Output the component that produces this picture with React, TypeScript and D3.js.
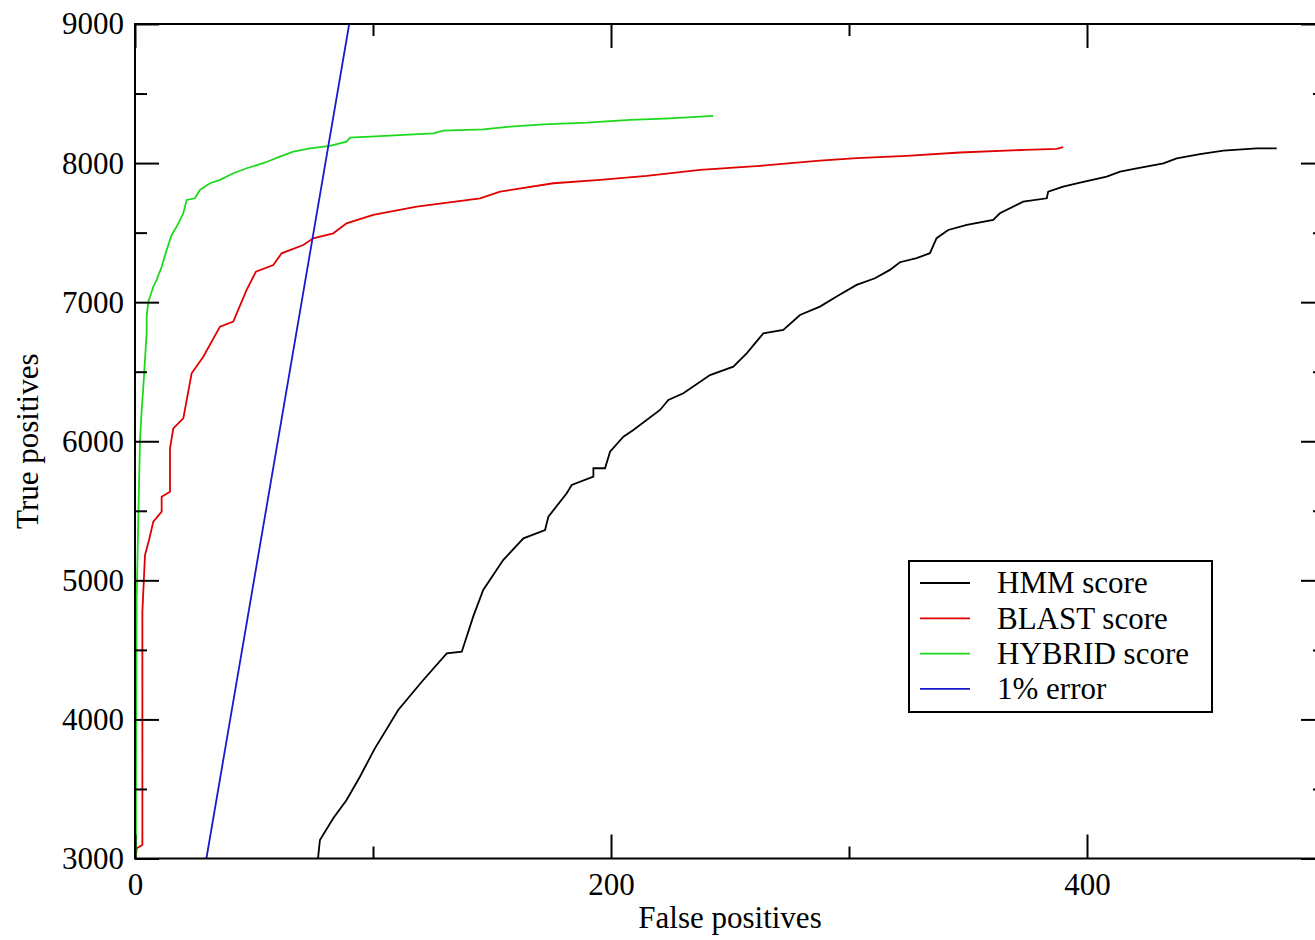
import React, { useEffect, useRef } from 'react';
import * as d3 from 'd3';

// [false positives, true positives]
const hmmScore: [number, number][] = [
  [76.9, 3000], [77.7, 3133], [83.3, 3289], [88.9, 3421], [94.5, 3588], [100.8, 3792],
  [110.6, 4068], [120.5, 4271], [131.0, 4475], [137.3, 4487], [142.1, 4739], [146.3, 4931],
  [154.7, 5146], [163.2, 5302], [172.3, 5362], [173.7, 5458], [181.4, 5626], [183.5, 5686],
  [192.6, 5745], [192.6, 5806], [197.5, 5806], [199.6, 5925], [205.2, 6033], [209.4, 6081],
  [220.6, 6225], [224.1, 6297], [230.4, 6345], [241.6, 6476], [251.4, 6536], [257.0, 6632],
  [264.0, 6776], [272.4, 6800], [279.4, 6908], [287.8, 6968], [294.8, 7040], [303.2, 7124],
  [310.9, 7172], [317.2, 7232], [321.4, 7287], [328.4, 7316], [334.0, 7352], [336.8, 7460],
  [341.7, 7519], [349.5, 7555], [360.6, 7591], [363.4, 7639], [373.2, 7723], [383.1, 7747],
  [383.7, 7795], [390.0, 7831], [397.1, 7859], [408.3, 7902], [413.9, 7938], [420.9, 7962],
  [432.1, 7998], [437.7, 8034], [447.5, 8065], [457.3, 8089], [471.3, 8106], [479.7, 8106]
];

const blastScore: [number, number][] = [
  [0.2, 3000], [0.7, 3073], [3.1, 3097], [3.1, 4775], [4.2, 5182], [5.9, 5290], [7.7, 5422],
  [11.2, 5494], [11.2, 5601], [14.7, 5637], [14.7, 5949], [16.1, 6093], [20.3, 6165],
  [23.8, 6489], [28.7, 6608], [35.7, 6824], [41.3, 6860], [46.9, 7088], [50.8, 7219],
  [58.1, 7267], [61.6, 7351], [70.7, 7411], [74.9, 7459], [83.3, 7495], [88.9, 7567],
  [100.1, 7627], [118.4, 7687], [145.0, 7747], [153.4, 7795], [175.8, 7855], [195.4, 7879],
  [215.0, 7908], [237.4, 7951], [262.6, 7980], [287.8, 8018], [303.2, 8035], [324.2, 8052],
  [346.6, 8076], [373.9, 8095], [387.3, 8102], [390.0, 8114]
];

const hybridScore: [number, number][] = [
  [0.4, 3000], [0.4, 3514], [0.7, 4859], [1.4, 5458], [2.1, 6009], [2.8, 6225], [3.5, 6392],
  [4.9, 6778], [4.9, 6896], [5.6, 7003], [7.7, 7111], [9.1, 7160], [11.2, 7255], [13.3, 7375],
  [15.4, 7483], [17.5, 7543], [20.3, 7639], [21.7, 7735], [25.2, 7747], [27.3, 7807],
  [31.5, 7855], [35.7, 7879], [41.3, 7927], [46.9, 7963], [53.9, 7999], [60.9, 8046],
  [66.5, 8082], [73.5, 8106], [81.9, 8123], [88.9, 8154], [90.3, 8183], [98.7, 8190],
  [125.3, 8214], [129.5, 8233], [146.3, 8243], [157.6, 8262], [171.6, 8279], [189.8, 8291],
  [208.0, 8310], [224.8, 8322], [243.0, 8339]
];

const errorLine: [number, number][] = [[30, 3000], [90, 9000]];

const seriesNames = ['HMM score', 'BLAST score', 'HYBRID score', '1% error'];
const xMajorTicks = [0, 200, 400];
const xMinorTicks = [100, 300, 500];
const yMajorTicks = [3000, 4000, 5000, 6000, 7000, 8000, 9000];
const yMinorTicks = [3500, 4500, 5500, 6500, 7500, 8500];

const colors = ['#000000', '#e00000', '#1ed81e', '#1a1acc'];
const font = '"Liberation Serif", "Times New Roman", serif';

const App = () => {
  const svgRef = useRef<SVGSVGElement>(null);

  useEffect(() => {
    const svg = d3.select(svgRef.current);
    svg.selectAll('*').remove();

    const left = 135, top = 24, right = 1325, bottom = 858.5;
    const x = d3.scaleLinear().domain([0, 500]).range([left, right]);
    const y = d3.scaleLinear().domain([3000, 9000]).range([bottom, top]);

    svg.append('rect').attr('width', 1315).attr('height', 940).attr('fill', '#fff');

    svg.append('clipPath').attr('id', 'plot-clip')
      .append('rect')
      .attr('x', left).attr('y', top)
      .attr('width', right - left).attr('height', bottom - top);

    // Curves
    const line = d3.line<[number, number]>()
      .x(d => x(d[0]))
      .y(d => y(d[1]));

    const data = [hmmScore, blastScore, hybridScore, errorLine];
    const g = svg.append('g').attr('clip-path', 'url(#plot-clip)');
    data.forEach((d, i) => {
      g.append('path')
        .datum(d)
        .attr('d', line)
        .attr('fill', 'none')
        .attr('stroke', colors[i])
        .attr('stroke-width', 1.8)
        .attr('stroke-linejoin', 'miter');
    });

    // Axes (ticks point inwards, mirrored on all four sides)
    const styleAxis = (sel, withText) => {
      sel.select('.domain').remove();
      sel.selectAll('line').attr('stroke', '#000').attr('stroke-width', 2);
      sel.selectAll('text')
        .style('font-family', font)
        .style('font-size', '31px')
        .attr('fill', '#000');
      if (!withText) sel.selectAll('text').remove();
    };

    const addAxis = (axis, transform, withText) => {
      svg.append('g')
        .attr('transform', transform)
        .call(axis)
        .call(sel => styleAxis(sel, withText));
    };

    addAxis(d3.axisBottom(x).tickValues(xMajorTicks).tickSize(-24).tickPadding(14).tickFormat(d3.format('d')),
      `translate(0,${bottom})`, true);
    addAxis(d3.axisBottom(x).tickValues(xMinorTicks).tickSize(-12), `translate(0,${bottom})`, false);
    addAxis(d3.axisTop(x).tickValues(xMajorTicks).tickSize(-24), `translate(0,${top})`, false);
    addAxis(d3.axisTop(x).tickValues(xMinorTicks).tickSize(-12), `translate(0,${top})`, false);

    addAxis(d3.axisLeft(y).tickValues(yMajorTicks).tickSize(-24).tickPadding(11).tickFormat(d3.format('d')),
      `translate(${left},0)`, true);
    addAxis(d3.axisLeft(y).tickValues(yMinorTicks).tickSize(-12), `translate(${left},0)`, false);
    addAxis(d3.axisRight(y).tickValues(yMajorTicks).tickSize(-24), `translate(${right},0)`, false);
    addAxis(d3.axisRight(y).tickValues(yMinorTicks).tickSize(-12), `translate(${right},0)`, false);

    // Frame
    svg.append('rect')
      .attr('x', left).attr('y', top)
      .attr('width', right - left).attr('height', bottom - top)
      .attr('fill', 'none')
      .attr('stroke', '#000')
      .attr('stroke-width', 2);

    // Axis titles
    svg.append('text')
      .attr('x', (left + right) / 2)
      .attr('y', 928)
      .attr('text-anchor', 'middle')
      .style('font-family', font)
      .style('font-size', '31px')
      .text('False positives');

    svg.append('text')
      .attr('transform', `translate(38,${(top + bottom) / 2}) rotate(-90)`)
      .attr('text-anchor', 'middle')
      .style('font-family', font)
      .style('font-size', '31px')
      .text('True positives');

    // Legend
    const legend = svg.append('g').attr('transform', 'translate(909,561)');
    legend.append('rect')
      .attr('width', 303).attr('height', 151)
      .attr('fill', '#fff')
      .attr('stroke', '#000')
      .attr('stroke-width', 2);

    seriesNames.forEach((name, i) => {
      const ry = 22 + i * 35.3;
      legend.append('line')
        .attr('x1', 11).attr('x2', 61)
        .attr('y1', ry).attr('y2', ry)
        .attr('stroke', colors[i])
        .attr('stroke-width', 1.8);
      legend.append('text')
        .attr('x', 88)
        .attr('y', ry)
        .attr('dy', '0.33em')
        .style('font-family', font)
        .style('font-size', '31px')
        .text(name);
    });
  }, []);

  return (
    <svg
      ref={svgRef}
      width={1315}
      height={940}
      style={{ position: 'absolute', left: 0, top: 0, display: 'block' }}
    />
  );
};

export default App;
